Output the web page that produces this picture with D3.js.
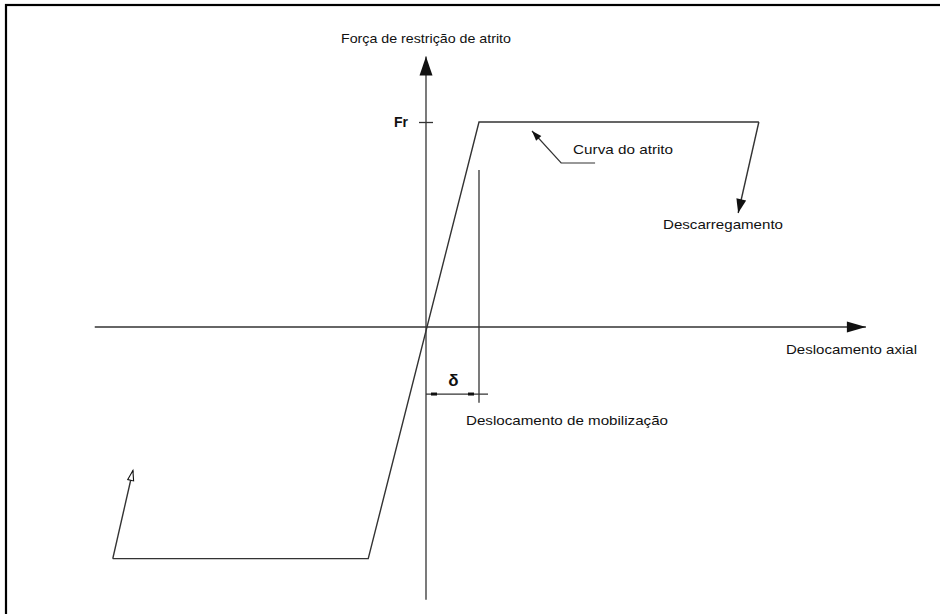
<!DOCTYPE html>
<html>
<head>
<meta charset="utf-8">
<script src="https://cdn.jsdelivr.net/npm/d3@7"></script>
<style>
  html, body { margin: 0; padding: 0; background: #fff; }
  svg { display: block; }
  text { font-family: "Liberation Sans", Arial, sans-serif; fill: #111; }
</style>
</head>
<body>
<svg id="chart" width="940" height="614"></svg>
<script>
// ---- data (displacement in units of δ, force in units of Fr) ----
const mainCurveD = [-5.91, -1.09, 1.0, 6.28];
const mainCurveF = [-1.13, -1.13, 1.0, 1.0];
const unloadingD = [6.28, 5.89];
const unloadingF = [1.0, 0.556];
const reloadingD = [-5.91, -5.53];
const reloadingF = [-1.13, -0.70];
const xAxisExtent = [-6.25, 8.3];
const yAxisExtent = [-1.33, 1.32];
const yTickValues = [1];
const yTickLabels = ["Fr"];
const deltaValue = 1.0;
const deltaLineF = [0.766, -0.37];
const deltaDimF = -0.327;
const leaderD = [2.0, 2.55, 3.19];
const leaderF = [0.956, 0.80, 0.80];
const axisTitleY = "Força de restrição de atrito";
const axisTitleX = "Deslocamento axial";
const curveLabel = "Curva do atrito";
const unloadLabel = "Descarregamento";
const deltaLabel = "δ";
const deltaTitle = "Deslocamento de mobilização";

const svg = d3.select("#chart");
const x = d3.scaleLinear().domain([0, 1]).range([426, 479]);
const y = d3.scaleLinear().domain([0, 1]).range([327, 122]);
const stroke = "#333";

// frame (partially outside the viewport, like the reference)
svg.append("rect").attr("x", 6).attr("y", 5).attr("width", 960).attr("height", 640)
  .attr("fill", "none").attr("stroke", "#000").attr("stroke-width", 2.2);

const defs = svg.append("defs");
function marker(id, len, wid, fill, strokeW) {
  const m = defs.append("marker").attr("id", id).attr("viewBox", `0 0 ${len} ${wid}`)
    .attr("refX", len).attr("refY", wid / 2).attr("markerWidth", len).attr("markerHeight", wid)
    .attr("markerUnits", "userSpaceOnUse").attr("orient", "auto").attr("overflow", "visible");
  const p = m.append("path").attr("d", `M0,0 L${len},${wid / 2} L0,${wid} Z`).attr("fill", fill);
  if (strokeW) p.attr("stroke", "#111").attr("stroke-width", strokeW);
}
marker("yArrow", 19, 13, "#111");
marker("xArrow", 19, 11, "#111");
marker("unloadArrow", 14, 10, "#111");
marker("leaderArrow", 10, 7, "#111");
marker("open", 10, 6, "#fff", 1.1);

const line = d3.line().x(d => x(d[0])).y(d => y(d[1]));

// axes
svg.append("line").attr("x1", x(xAxisExtent[0])).attr("x2", x(xAxisExtent[1]))
  .attr("y1", y(0)).attr("y2", y(0)).attr("stroke", stroke).attr("stroke-width", 1.3)
  .attr("marker-end", "url(#xArrow)");
svg.append("line").attr("x1", x(0)).attr("x2", x(0))
  .attr("y1", y(yAxisExtent[0])).attr("y2", y(yAxisExtent[1])).attr("stroke", stroke).attr("stroke-width", 1.3)
  .attr("marker-end", "url(#yArrow)");

// y ticks via d3 axis
const yAxis = d3.axisLeft(y).tickValues(yTickValues).tickSize(7)
  .tickFormat((d, i) => yTickLabels[i]);
const yt = svg.append("g").attr("transform", `translate(${x(0)},0)`).call(yAxis);
yt.select(".domain").remove();
yt.selectAll(".tick line").attr("x2", -7).attr("x1", 7).attr("stroke", stroke).attr("stroke-width", 1.3);
yt.selectAll(".tick text").attr("x", -18).attr("dy", "0.35em")
  .style("font-family", "'Liberation Sans', Arial, sans-serif")
  .style("font-size", "14px").style("font-weight", "bold").attr("fill", "#111");

// friction curve
svg.append("path").datum(mainCurveD.map((d, i) => [d, mainCurveF[i]]))
  .attr("d", line).attr("fill", "none").attr("stroke", stroke).attr("stroke-width", 1.4);
svg.append("path").datum(unloadingD.map((d, i) => [d, unloadingF[i]]))
  .attr("d", line).attr("fill", "none").attr("stroke", stroke).attr("stroke-width", 1.4)
  .attr("marker-end", "url(#unloadArrow)");
svg.append("path").datum(reloadingD.map((d, i) => [d, reloadingF[i]]))
  .attr("d", line).attr("fill", "none").attr("stroke", stroke).attr("stroke-width", 1.4)
  .attr("marker-end", "url(#open)");

// delta extension line
svg.append("line").attr("x1", x(deltaValue)).attr("x2", x(deltaValue))
  .attr("y1", y(deltaLineF[0])).attr("y2", y(deltaLineF[1]))
  .attr("stroke", stroke).attr("stroke-width", 1.3);
// delta dimension line
svg.append("line").attr("x1", x(0)).attr("x2", x(deltaValue) + 9)
  .attr("y1", y(deltaDimF)).attr("y2", y(deltaDimF))
  .attr("stroke", stroke).attr("stroke-width", 1.3);
[x(0) + 5, x(deltaValue) - 11].forEach(px => {
  svg.append("rect").attr("x", px).attr("y", y(deltaDimF) - 1.5)
    .attr("width", 6).attr("height", 3).attr("fill", "#111");
});
svg.append("text").attr("x", (x(0) + x(deltaValue)) / 2 + 1).attr("y", y(deltaDimF) - 8)
  .attr("text-anchor", "middle").style("font-size", "17px").style("font-weight", "bold").text(deltaLabel);

// leader for curve label
svg.append("path").datum(leaderD.map((d, i) => [d, leaderF[i]]).reverse())
  .attr("d", line).attr("fill", "none").attr("stroke", stroke).attr("stroke-width", 1.2)
  .attr("marker-end", "url(#leaderArrow)");

// labels
function label(txt, px, py, w) {
  svg.append("text").attr("x", px).attr("y", py)
    .style("font-size", "13px")
    .attr("textLength", w).attr("lengthAdjust", "spacingAndGlyphs")
    .text(txt);
}
label(axisTitleY, 341, 43, 170);
label(curveLabel, x(leaderD[2]) - 22, y(leaderF[2]) - 9, 100);
label(unloadLabel, 663, 229, 120);
label(axisTitleX, 786, 354, 131);
label(deltaTitle, 466, 425, 202);
</script>
</body>
</html>
